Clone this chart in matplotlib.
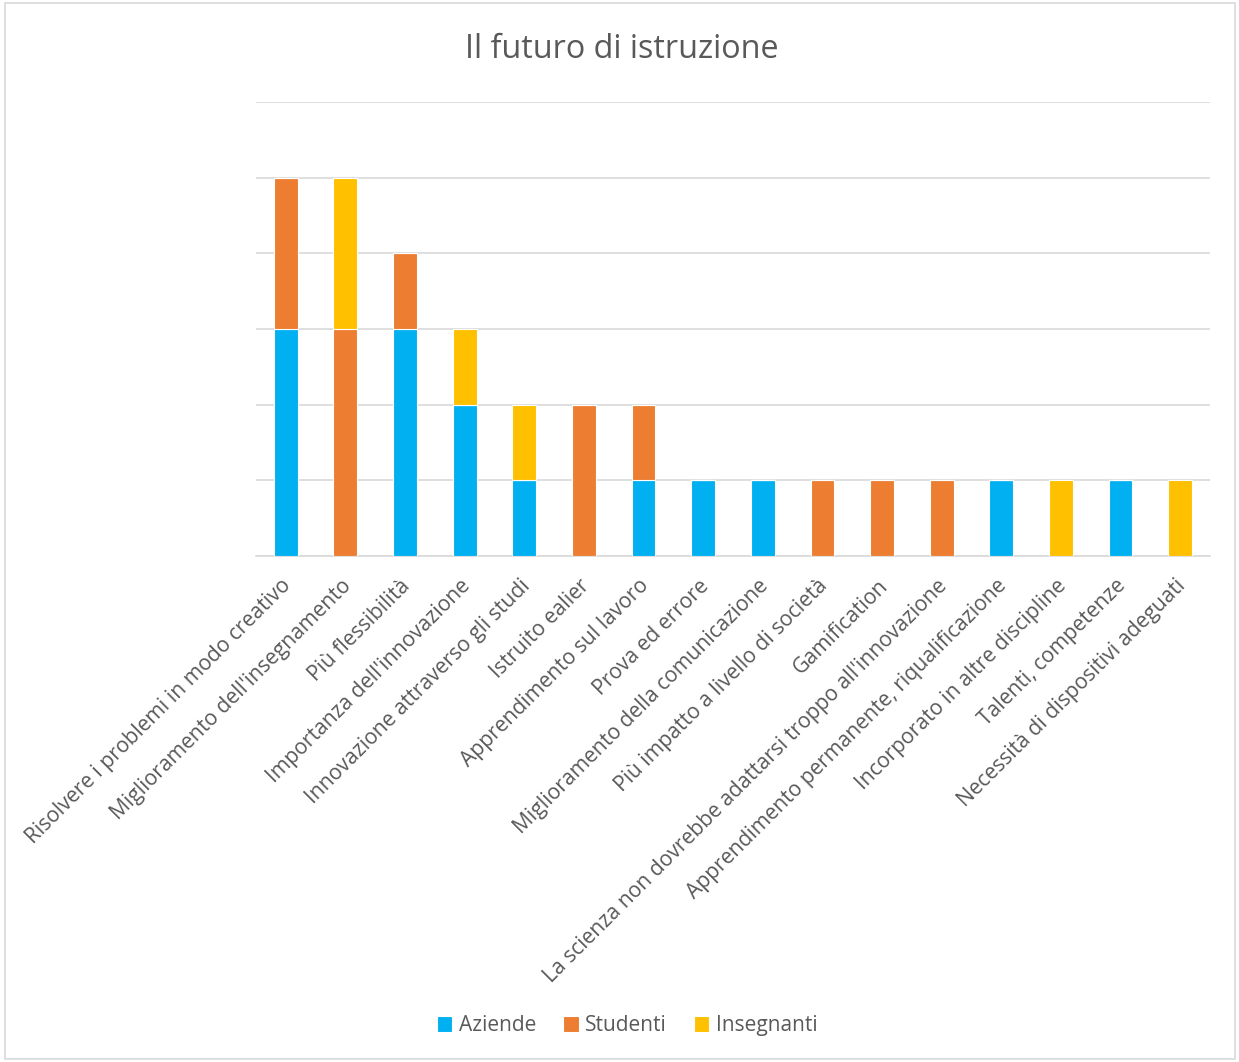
import matplotlib
matplotlib.use("Agg")
import matplotlib.pyplot as plt
from matplotlib.patches import Rectangle
from matplotlib.transforms import ScaledTranslation
import numpy as np

plt.rcParams['font.family'] = ['Open Sans', 'DejaVu Sans']

categories = [
    "Risolvere i problemi in modo creativo",
    "Miglioramento dell'insegnamento",
    "Più flessibilità",
    "Importanza dell'innovazione",
    "Innovazione attraverso gli studi",
    "Istruito ealier",
    "Apprendimento sul lavoro",
    "Prova ed errore",
    "Miglioramento della comunicazione",
    "Più impatto a livello di società",
    "Gamification",
    "La scienza non dovrebbe adattarsi troppo all'innovazione",
    "Apprendimento permanente, riqualificazione",
    "Incorporato in altre discipline",
    "Talenti, competenze",
    "Necessità di dispositivi adeguati",
]
aziende     = [3, 0, 3, 2, 1, 0, 1, 1, 1, 0, 0, 0, 1, 0, 1, 0]
studenti    = [2, 3, 1, 0, 0, 2, 1, 0, 0, 1, 1, 1, 0, 0, 0, 0]
insegnanti  = [0, 2, 0, 1, 1, 0, 0, 0, 0, 0, 0, 0, 0, 1, 0, 1]
series_names = ["Aziende", "Studenti", "Insegnanti"]
colors = ["#00B0F0", "#ED7D31", "#FFC000"]

fig = plt.figure(figsize=(12.39, 10.62), dpi=100)
ax = fig.add_axes([0.2066, 0.4765, 0.770, 0.4275])

x = np.arange(len(categories))
bottom = np.zeros(len(categories))
for name, vals, c in zip(series_names, [aziende, studenti, insegnanti], colors):
    ax.bar(x, vals, width=0.4, bottom=bottom, color=c, label=name,
           edgecolor="white", linewidth=0.8, zorder=3)
    bottom += np.array(vals)

ax.set_xlim(-0.5, len(categories) - 0.5)
ax.set_ylim(0, 6)
ax.set_yticks(range(0, 7))
ax.set_yticklabels([])
ax.tick_params(axis='y', length=0)
ax.grid(axis='y', color="#D9D9D9", linewidth=1.2, zorder=0)
for s in ["top", "right", "left"]:
    ax.spines[s].set_visible(False)
ax.spines["bottom"].set_color("#D9D9D9")
ax.spines["bottom"].set_linewidth(1.2)

ax.set_xticks(x)
ax.set_xticklabels(categories, rotation=45, ha="right", va="top",
                   rotation_mode="anchor", fontsize=15.2, color="#595959")
ax.tick_params(axis='x', length=0, pad=14)
shift = ScaledTranslation(-5 / 100, 0, fig.dpi_scale_trans)
for lbl in ax.get_xticklabels():
    lbl.set_transform(lbl.get_transform() + shift)

fig.text(0.502, 0.953, "Il futuro di istruzione", ha="center", va="center",
         fontsize=23.3, color="#595959")

leg = fig.legend(loc="center", bbox_to_anchor=(0.506, 0.034), ncol=3,
                 frameon=False, fontsize=15, handlelength=0.75,
                 handleheight=0.75, handletextpad=0.3, columnspacing=1.3)
for t in leg.get_texts():
    t.set_color("#595959")

fig.patches.append(Rectangle((0.004, 0.003), 0.993, 0.994, transform=fig.transFigure,
                             fill=False, edgecolor="#D9D9D9", linewidth=1.2))

fig.savefig("out.png", dpi=100, facecolor="white")
